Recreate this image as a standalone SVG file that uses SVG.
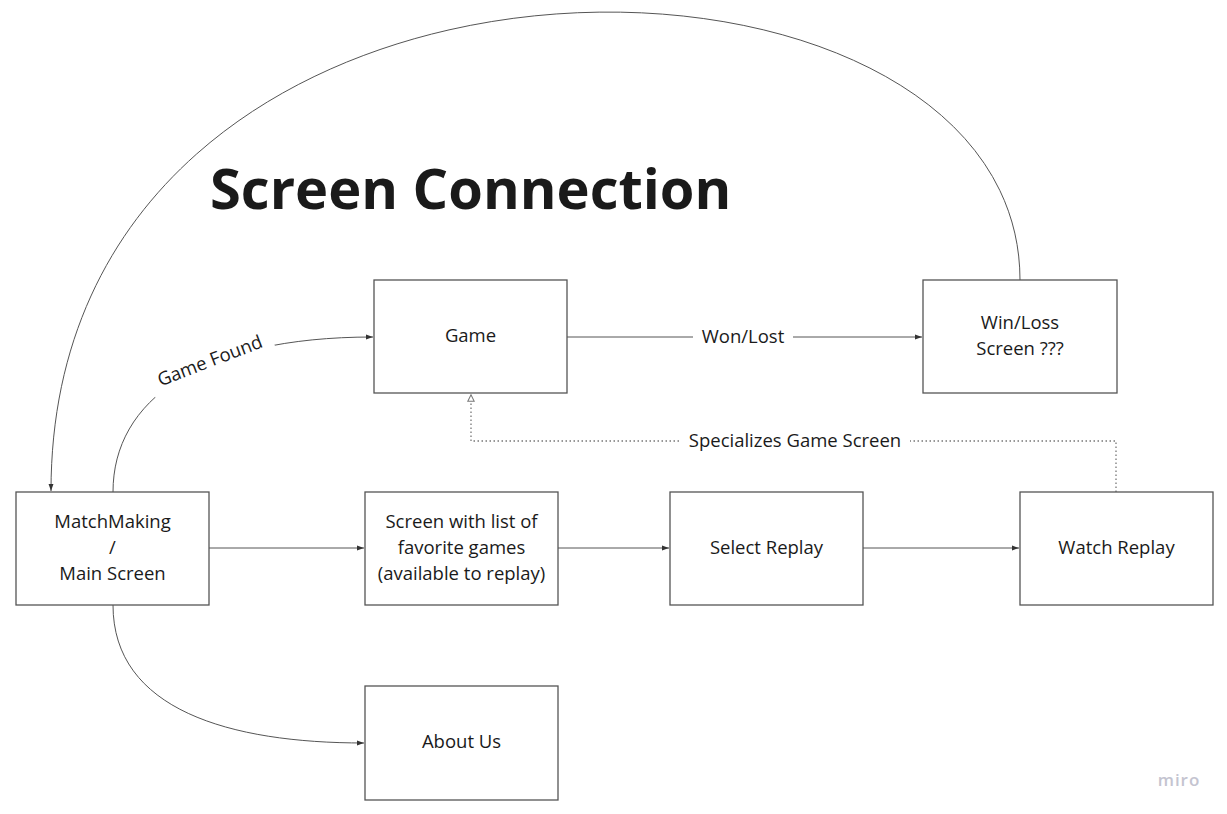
<svg xmlns="http://www.w3.org/2000/svg" width="1227" height="814" viewBox="0 0 1227 814">
<defs>
<style>
.box{fill:#ffffff;stroke:#555555;stroke-width:1.3}
.t{font-family:"Open Sans","Liberation Sans",sans-serif;font-size:18.5px;fill:#1a1a1a;text-anchor:middle}
.c{fill:none;stroke:#555555;stroke-width:1}
.d{fill:none;stroke:#777777;stroke-width:1.3;stroke-dasharray:1.5 2.5}
.lbl{font-family:"Open Sans","Liberation Sans",sans-serif;font-size:18.5px;fill:#1a1a1a;text-anchor:middle}
</style>
<marker id="arr" viewBox="0 0 10 10" refX="10" refY="5" markerWidth="7" markerHeight="7" markerUnits="userSpaceOnUse" orient="auto">
<path d="M0,1.5 L10,5 L0,8.5 Z" fill="#333333"/>
</marker>
<marker id="tri" viewBox="0 0 10 10" refX="10" refY="5" markerWidth="8" markerHeight="8" markerUnits="userSpaceOnUse" orient="auto">
<path d="M1,1 L9,5 L1,9 Z" fill="#ffffff" stroke="#777777" stroke-width="1.3"/>
</marker>
</defs>
<rect width="1227" height="814" fill="#ffffff"/>
<text x="210" y="209" font-family="'Open Sans','Liberation Sans',sans-serif" font-size="56" font-weight="bold" fill="#1a1a1a">Screen Connection</text>
<g id="connectors">
<path class="c" d="M1020,280 C1020,-100 51,-115 51,491" marker-end="url(#arr)"/>
<path class="c" d="M113,492 C113,400 200,337 373,337" marker-end="url(#arr)"/>
<rect x="146" y="346" width="130" height="30" fill="#ffffff" transform="rotate(-21 210 361)"/>
<text class="lbl" x="210" y="367" transform="rotate(-21 210 361)">Game Found</text>
<path class="c" d="M113,605 C113,710 230,743 364,743" marker-end="url(#arr)"/>
<path class="c" d="M567,337 L922,337" marker-end="url(#arr)"/>
<rect x="693" y="325" width="100" height="24" fill="#ffffff"/>
<text class="lbl" x="743" y="343">Won/Lost</text>
<path class="c" d="M209,548 L364,548" marker-end="url(#arr)"/>
<path class="c" d="M558,548 L669,548" marker-end="url(#arr)"/>
<path class="c" d="M863,548 L1019,548" marker-end="url(#arr)"/>
<path class="d" d="M1116,492 L1116,441 L471,441 L471,394" marker-end="url(#tri)"/>
<rect x="680" y="429" width="230" height="24" fill="#ffffff"/>
<text class="lbl" x="795" y="447">Specializes Game Screen</text>
</g>
<g id="node-matchmaking">
<rect class="box" x="16" y="492" width="193" height="113"/>
<text class="t" x="112.5" y="528">MatchMaking</text>
<text class="t" x="112.5" y="554">/</text>
<text class="t" x="112.5" y="580">Main Screen</text>
</g>
<g id="node-game">
<rect class="box" x="374" y="280" width="193" height="113"/>
<text class="t" x="470.5" y="342">Game</text>
</g>
<g id="node-winloss">
<rect class="box" x="923" y="280" width="194" height="113"/>
<text class="t" x="1020" y="329">Win/Loss</text>
<text class="t" x="1020" y="355">Screen ???</text>
</g>
<g id="node-favorites">
<rect class="box" x="365" y="492" width="193" height="113"/>
<text class="t" x="461.5" y="528">Screen with list of</text>
<text class="t" x="461.5" y="554">favorite games</text>
<text class="t" x="461.5" y="580">(available to replay)</text>
</g>
<g id="node-select">
<rect class="box" x="670" y="492" width="193" height="113"/>
<text class="t" x="766.5" y="554">Select Replay</text>
</g>
<g id="node-watch">
<rect class="box" x="1020" y="492" width="193" height="113"/>
<text class="t" x="1116.5" y="554">Watch Replay</text>
</g>
<g id="node-about">
<rect class="box" x="365" y="686" width="193" height="114"/>
<text class="t" x="461.5" y="748">About Us</text>
</g>
<text x="1179" y="786" font-family="'Open Sans','Liberation Sans',sans-serif" font-size="17" font-weight="600" fill="#c4c4d0" text-anchor="middle" letter-spacing="1">miro</text>
</svg>
